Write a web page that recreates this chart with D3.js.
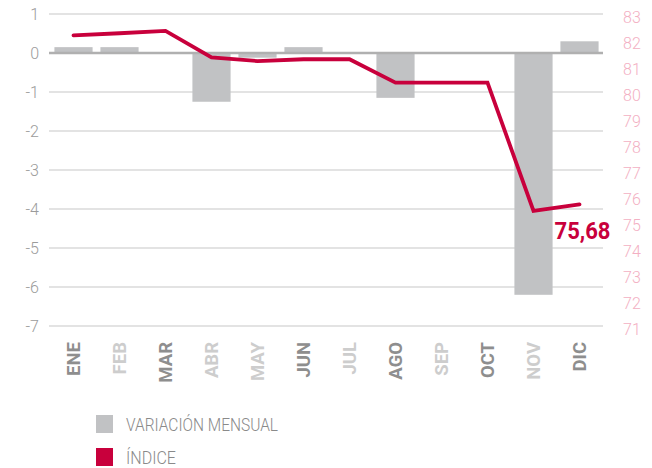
<html>
<head>
  <script src="https://d3js.org/d3.v7.min.js"></script>
  <style>
    body { margin: 0; background: #fff; }
    text { font-family: Roboto, "DejaVu Sans", sans-serif; }
  </style>
</head>
<body>
<div id="chart"></div>
<script>
// data
var months = ["ENE", "FEB", "MAR", "ABR", "MAY", "JUN", "JUL", "AGO", "SEP", "OCT", "NOV", "DIC"];
var variacion = [0.15, 0.15, 0, -1.25, -0.12, 0.15, 0, -1.15, 0, 0, -6.2, 0.3];
var indice = [82.18, 82.26, 82.35, 81.33, 81.19, 81.26, 81.26, 80.36, 80.36, 80.36, 75.43, 75.68];
var leftTicks = [1, 0, -1, -2, -3, -4, -5, -6, -7];
var rightTicks = [83, 82, 81, 80, 79, 78, 77, 76, 75, 74, 73, 72, 71];
var lastLabel = "75,68";
var legendLabels = ["VARIACIÓN MENSUAL", "ÍNDICE"];

var width = 652,
  height = 468;

var svg = d3.select("#chart").append("svg")
    .attr("width", width)
    .attr("height", height);

var x = d3.scaleBand().domain(months).range([50.5, 602.5])
    .paddingInner(0.17).paddingOuter(0.085);
var yL = d3.scaleLinear().domain([-7, 1]).range([326, 14]);
var yR = d3.scaleLinear().domain([71, 83]).range([326, 14]);

var red = "#c8003c";
var barGrey = "#c1c2c4";
// months drawn in the darker grey
var darkMonths = ["ENE", "MAR", "JUN", "AGO", "OCT", "DIC"];

// grid lines
svg.selectAll("line.grid").data(leftTicks).enter().append("line")
    .attr("class", "grid")
    .attr("x1", 49).attr("x2", 603)
    .attr("y1", function(d){ return yL(d); })
    .attr("y2", function(d){ return yL(d); })
    .attr("stroke", "#dadada")
    .attr("stroke-width", 1.3);

// left tick labels
svg.selectAll("text.left").data(leftTicks).enter().append("text")
    .attr("class", "left")
    .attr("x", 39)
    .attr("y", function(d){ return yL(d); })
    .attr("dy", "0.36em")
    .attr("text-anchor", "end")
    .attr("font-size", 16)
    .attr("font-weight", 300)
    .attr("fill", "#9b9b9b")
    .text(function(d){ return d; });

// right tick labels
svg.selectAll("text.right").data(rightTicks).enter().append("text")
    .attr("class", "right")
    .attr("x", 623)
    .attr("y", function(d){ return yR(d) + 3; })
    .attr("dy", "0.36em")
    .attr("font-size", 16)
    .attr("font-weight", 300)
    .attr("fill", "#f3b0c3")
    .text(function(d){ return d; });

// bars
svg.selectAll("rect.bar").data(variacion).enter().append("rect")
    .attr("class", "bar")
    .attr("x", function(d, i){ return x(months[i]); })
    .attr("width", x.bandwidth())
    .attr("y", function(d){ return Math.min(yL(d), yL(0)); })
    .attr("height", function(d){ return Math.abs(yL(d) - yL(0)); })
    .attr("fill", barGrey);

// zero line
svg.append("line")
    .attr("x1", 49).attr("x2", 603)
    .attr("y1", yL(0)).attr("y2", yL(0))
    .attr("stroke", "#b0b0b0")
    .attr("stroke-width", 2.5);

// index line
var line = d3.line()
    .x(function(d, i){ return x(months[i]) + x.bandwidth() / 2; })
    .y(function(d){ return yR(d); });

svg.append("path")
    .datum(indice)
    .attr("d", line)
    .attr("fill", "none")
    .attr("stroke", red)
    .attr("stroke-width", 3.8)
    .attr("stroke-linecap", "round");

// last value label
var lastM = months[months.length - 1];
svg.append("text")
    .attr("x", x(lastM) + x.bandwidth() / 2 - 25)
    .attr("y", yR(indice[indice.length - 1]) + 35)
    .attr("font-family", "'DejaVu Sans Condensed', 'DejaVu Sans', sans-serif")
    .attr("font-size", 23)
    .attr("font-weight", "bold")
    .attr("fill", red)
    .attr("textLength", 56)
    .attr("lengthAdjust", "spacingAndGlyphs")
    .text(lastLabel);

// month labels
svg.selectAll("text.month").data(months).enter().append("text")
    .attr("class", "month")
    .attr("transform", function(d){
      return "translate(" + (x(d) + x.bandwidth() / 2) + ",342) rotate(-90)";
    })
    .attr("dy", "0.36em")
    .attr("text-anchor", "end")
    .attr("font-family", "'DejaVu Sans Condensed', 'DejaVu Sans', sans-serif")
    .attr("font-size", 18.5)
    .attr("font-weight", "bold")
    .attr("fill", function(d){ return darkMonths.indexOf(d) >= 0 ? "#8e8e8e" : "#cdcdcd"; })
    .text(function(d){ return d; });

// legend
var legendColors = [barGrey, red];
var legendWidths = [152, 50];
var legend = svg.selectAll("g.legend").data(legendLabels).enter().append("g")
    .attr("class", "legend")
    .attr("transform", function(d, i){ return "translate(96," + (415 + i * 33) + ")"; });

legend.append("rect")
    .attr("width", 17).attr("height", 18)
    .attr("fill", function(d, i){ return legendColors[i]; });

legend.append("text")
    .attr("x", 30)
    .attr("y", 15.5)
    .attr("font-size", 19)
    .attr("font-weight", 300)
    .attr("fill", "#8a8a8a")
    .attr("textLength", function(d, i){ return legendWidths[i]; })
    .attr("lengthAdjust", "spacingAndGlyphs")
    .text(function(d){ return d; });

</script>
</body></html>
